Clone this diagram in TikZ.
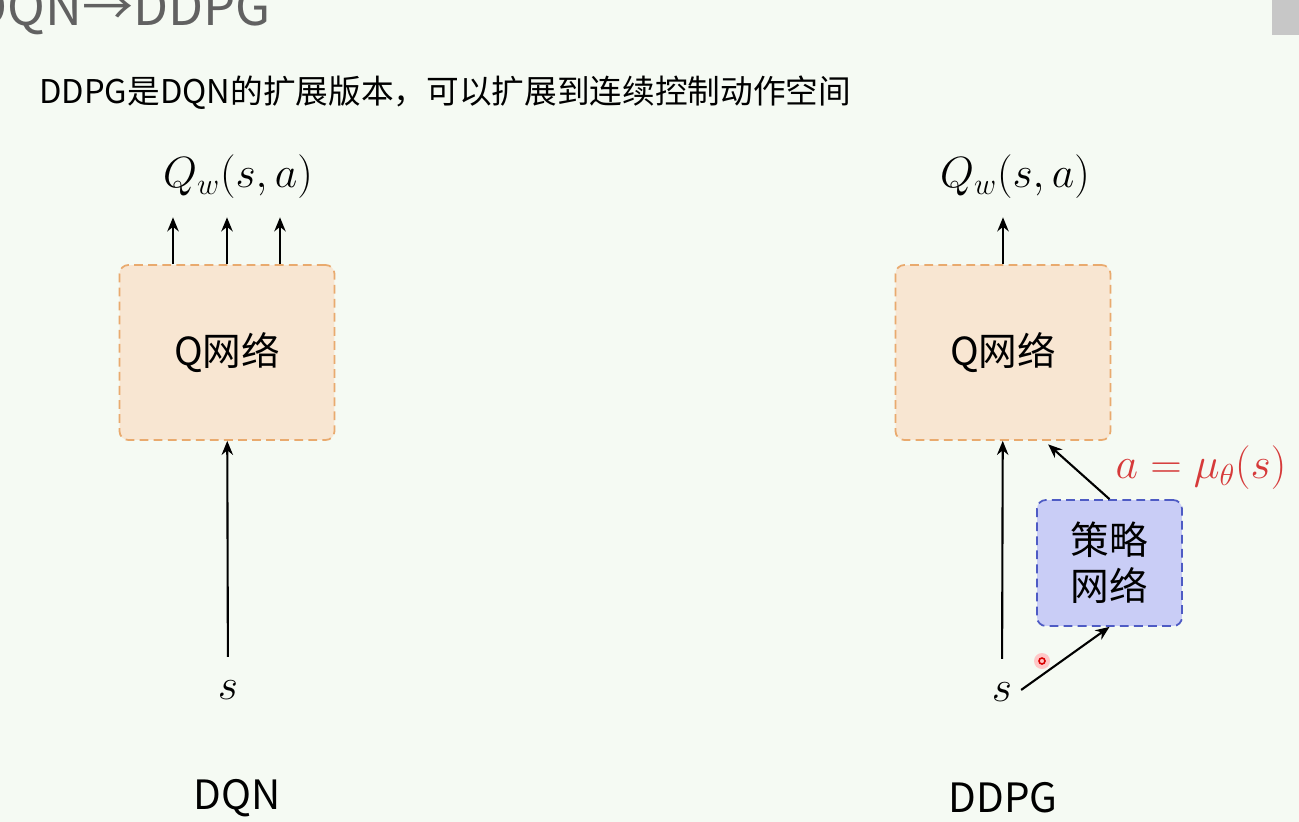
\documentclass[tikz,border=0pt]{standalone}
\usepackage{fontspec}
\setmainfont{Noto Sans CJK SC}
\usetikzlibrary{arrows.meta}

\definecolor{bgcol}{HTML}{F5FAF3}
\definecolor{qfill}{HTML}{F8E6D2}
\definecolor{qline}{HTML}{E9AA6E}
\definecolor{pfill}{HTML}{C9CDF6}
\definecolor{pline}{HTML}{4E5BC4}
\definecolor{redlbl}{HTML}{D63A3A}

\begin{document}
\begin{tikzpicture}[x=0.02cm, y=-0.02cm,
  arr/.style={-{Stealth[length=8pt,width=6.5pt]}, line width=1.2pt},
  net/.style={rounded corners=5pt, dashed, line width=1pt, dash pattern=on 5pt off 3pt,
              font=\fontsize{22}{26}\selectfont, align=center},
  q net/.style={net, fill=qfill, draw=qline, minimum width=4.3cm, minimum height=3.5cm},
  pol net/.style={net, fill=pfill, draw=pline, minimum width=2.9cm, minimum height=2.52cm},
  math lbl/.style={font=\fontsize{24}{28}\selectfont},
  name lbl/.style={font=\fontsize{23}{26}\selectfont}]
\fill[bgcol] (0,0) rectangle (1299,822);
\useasboundingbox (0,0) rectangle (1299,822);
\fill[black!22] (1272,0) rectangle (1299,35);

% heading
\node[anchor=base east, text=black!62, font=\fontsize{29}{32}\selectfont] (title) at (277,25) {DQN→DDPG};
\node[anchor=west, font=\fontsize{18.6}{22}\selectfont] (intro) at (33,93) {DDPG是DQN的扩展版本，可以扩展到连续控制动作空间};

% DQN
\node[q net] (qdqn) at (227,352.5) {Q网络};
\node[math lbl] (qwdqn) at (238,177) {$Q_w(s,a)$};
\node[math lbl] (sdqn) at (228,690) {$s$};
\node[name lbl] (dqn) at (237,798) {DQN};

% DDPG
\node[q net] (qddpg) at (1003,352.5) {Q网络};
\node[pol net] (pol) at (1109.5,563) {策略\\网络};
\node[math lbl] (qwddpg) at (1015,177) {$Q_w(s,a)$};
\node[math lbl] (sddpg) at (1002,692) {$s$};
\node[math lbl, text=redlbl] (mu) at (1201,468) {$a=\mu_\theta(s)$};
\node[name lbl] (ddpg) at (1003,798) {DDPG};

\fill[red!22] (1042,661) circle (0.16cm);
\draw[red!85!black, line width=0.9pt] (1042,661) circle (0.06cm);

% arrows
\foreach \dx in {-1.08cm,0cm,1.06cm}
  \draw[arr, shorten >=7pt] ([xshift=\dx]qdqn.north) -- ([xshift=\dx]qdqn.north |- qwdqn.south);
\draw[arr, shorten <=10pt] (sdqn) -- (qdqn);
\draw[arr, shorten >=7pt] (qddpg.north) -- (qddpg.north |- qwddpg.south);
\draw[arr, shorten <=10pt] (sddpg) -- (qddpg);
\draw[arr, shorten <=2pt] (sddpg.east) -- (pol.south);
\draw[arr, shorten >=3pt] (pol.north) -- (qddpg.-65);
\end{tikzpicture}
\end{document}
